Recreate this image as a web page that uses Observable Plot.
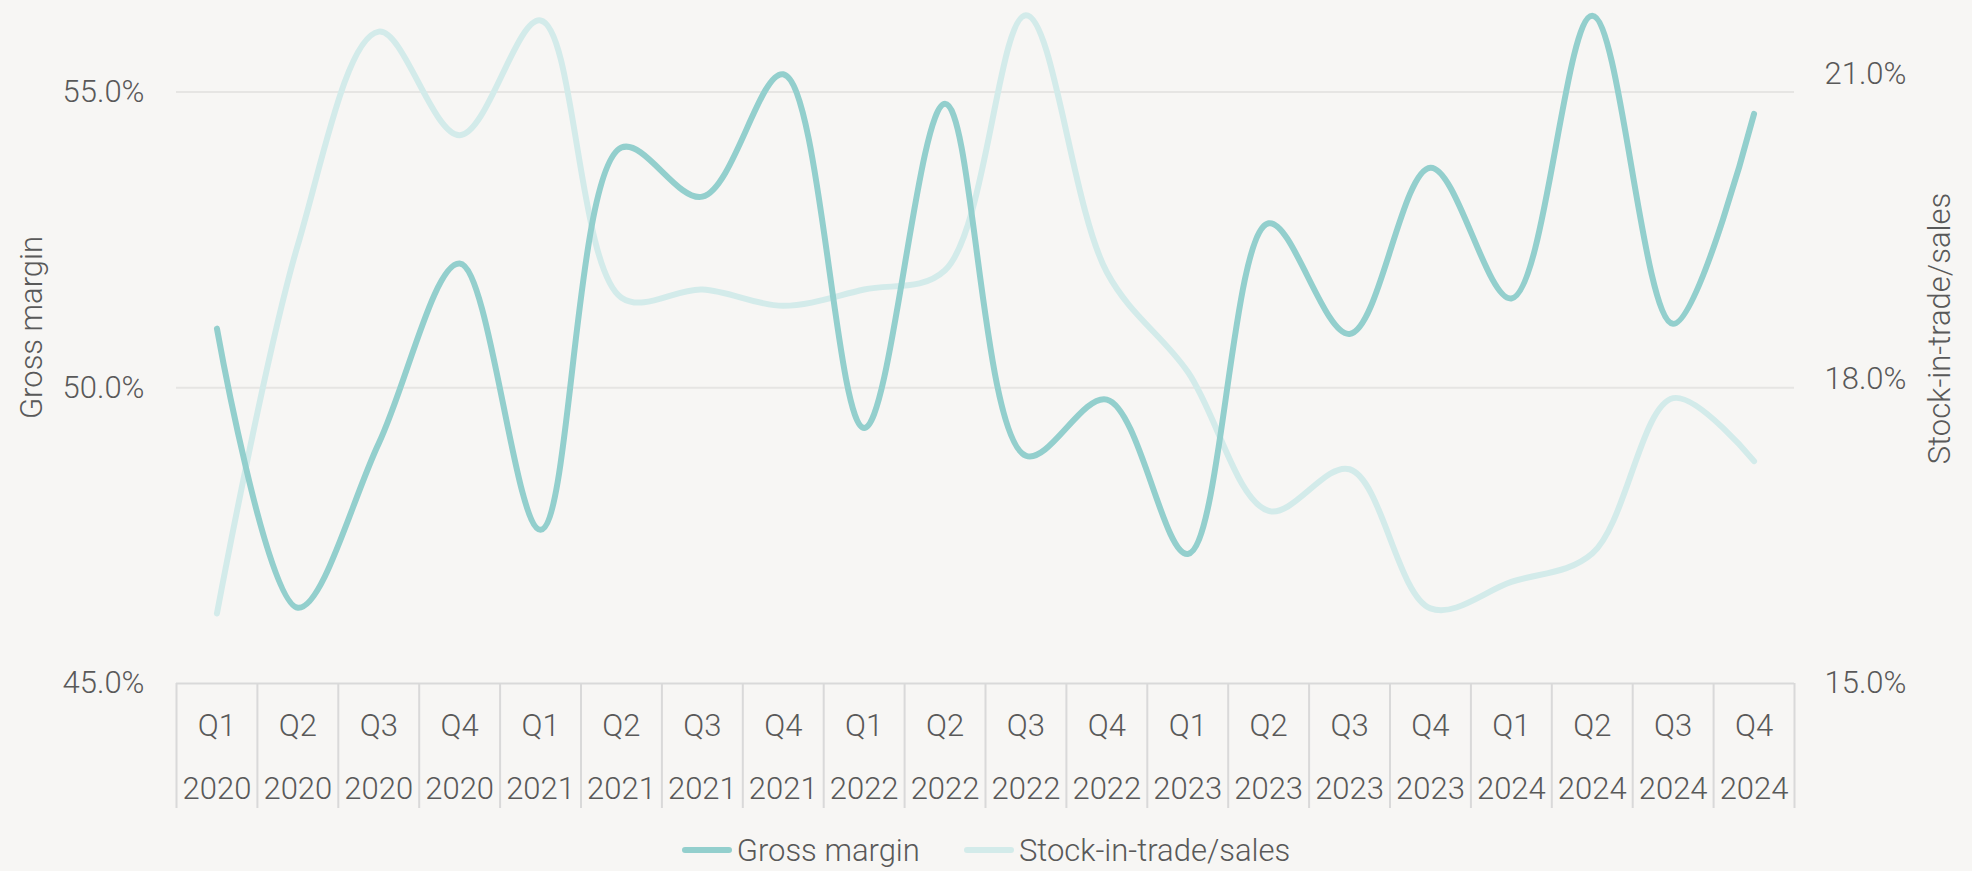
<!DOCTYPE html>
<html><head><meta charset="utf-8">
<script src="https://cdn.jsdelivr.net/npm/d3@7"></script>
<script src="https://cdn.jsdelivr.net/npm/@observablehq/plot@0.6"></script>
<style>
body{margin:0;background:#f7f6f4;font-family:Roboto, sans-serif;font-weight:300;color:#595959}
#legend{display:flex;justify-content:center;align-items:center;gap:44px;font-size:31px;height:60px}
.item{display:flex;align-items:center;gap:5px}
.sw{width:50px;height:6px;border-radius:3px}
</style></head><body><div id="chart"></div><div id="legend"></div>
<script>
const quarters = ["Q1","Q2","Q3","Q4","Q1","Q2","Q3","Q4","Q1","Q2","Q3","Q4","Q1","Q2","Q3","Q4","Q1","Q2","Q3","Q4"];
const years = ["2020","2020","2020","2020","2021","2021","2021","2021","2022","2022","2022","2022","2023","2023","2023","2023","2024","2024","2024","2024"];
const grossMargin = [51.0,46.28,49.06,52.1,47.6,54.06,53.23,55.3,49.32,54.8,48.85,49.8,47.19,52.78,50.91,53.72,51.51,56.29,51.08,54.63];
const stockToSales = [15.69,19.32,21.42,20.40,21.53,18.80,18.88,18.72,18.88,19.07,21.58,19.05,18.07,16.70,17.11,15.74,16.0,16.28,17.81,17.19];
const leftTicks = [45,50,55];
const rightTicks = [15,18,21];
const seriesNames = ["Gross margin","Stock-in-trade/sales"];
const colors = ["#93cfcd","#d3ebea"];

// right axis (stock) mapped onto left axis units: 15 ↔ 45, 21 ↔ 55.30
const k = (55.30 - 45) / (21 - 15);
const toLeft = s => 45 + (s - 15) * k;
const fromLeft = g => 15 + (g - 45) / k;

const idx = d3.range(quarters.length);
const gm = idx.map(i => ({i, v: grossMargin[i]}));
const st = idx.map(i => ({i, v: toLeft(stockToSales[i])}));
const bounds = d3.range(quarters.length + 1).map(i => i - 0.5);

const W = 1972, H = 820;
const chart = Plot.plot({
  width: W, height: H,
  marginLeft: 176, marginRight: 178, marginTop: 10, marginBottom: H - 683,
  style: {background: "transparent", fontFamily: "Roboto, sans-serif", fontSize: "31px", color: "#595959", fontWeight: 300},
  x: {type: "linear", domain: [-0.5, quarters.length - 0.5], range: [176, 1794], axis: null},
  y: {domain: [45, 55], range: [683, 91.5], axis: null},
  marks: [
    Plot.ruleY([50, 55], {x1: -0.5, x2: quarters.length - 0.5, stroke: "#e6e5e3", strokeWidth: 2}),
    Plot.ruleY([45], {x1: -0.5, x2: quarters.length - 0.5, stroke: "#d9d9d9", strokeWidth: 2}),
    Plot.axisX(bounds, {tickSize: 125, tickFormat: () => "", stroke: "#d9d9d9", strokeWidth: 2, label: null}),
    Plot.axisX(idx, {tickSize: 0, tickPadding: 30, tickFormat: i => quarters[i], label: null}),
    Plot.axisX(idx, {tickSize: 0, tickPadding: 93, tickFormat: i => years[i], label: null}),
    Plot.axisY(leftTicks, {anchor: "left", tickSize: 0, tickPadding: 32, tickFormat: v => v.toFixed(1) + "%", label: null}),
    Plot.axisY(rightTicks.map(toLeft), {anchor: "right", tickSize: 0, tickPadding: 30, tickFormat: v => fromLeft(v).toFixed(1) + "%", label: null}),
    Plot.text([seriesNames[0]], {frameAnchor: "top-left", dx: -144, dy: 317, rotate: -90, textAnchor: "middle", lineAnchor: "middle", fill: "#595959"}),
    Plot.text([seriesNames[1]], {frameAnchor: "top-right", dx: 146, dy: 318, rotate: -90, textAnchor: "middle", lineAnchor: "middle", fill: "#595959"}),
    Plot.line(st, {x: "i", y: "v", stroke: colors[1], strokeWidth: 6, curve: "catmull-rom", strokeLinecap: "round"}),
    Plot.line(gm, {x: "i", y: "v", stroke: colors[0], strokeWidth: 6, curve: "catmull-rom", strokeLinecap: "round"})
  ]
});
document.getElementById("chart").appendChild(chart);

const legend = d3.select("#legend");
seriesNames.forEach((n, j) => {
  const it = legend.append("div").attr("class", "item");
  it.append("div").attr("class", "sw").style("background", colors[j]);
  it.append("span").text(n);
});
</script></body></html>
